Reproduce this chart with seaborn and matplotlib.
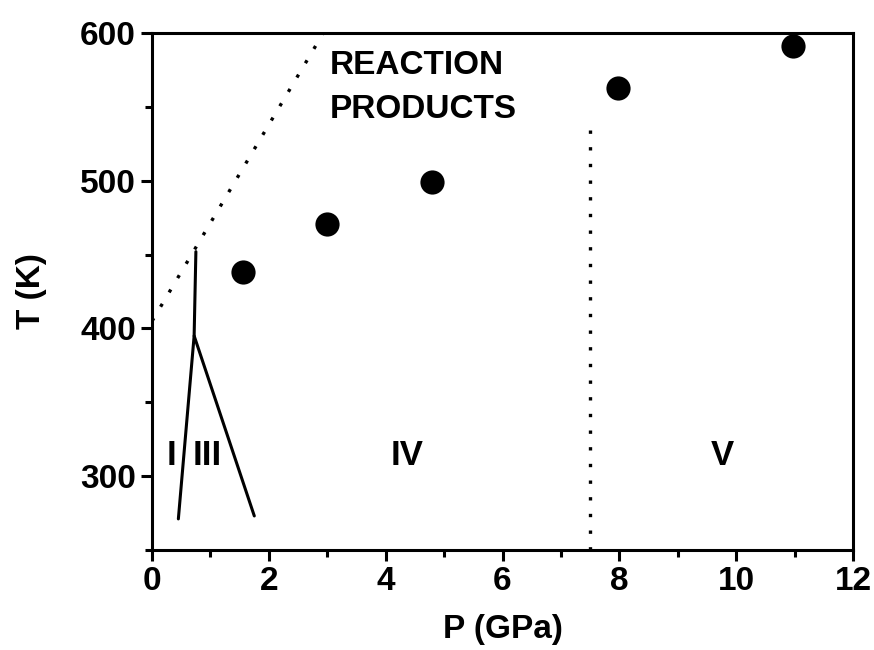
import numpy as np
import pandas as pd
import matplotlib
matplotlib.use('Agg')
import matplotlib.pyplot as plt
import seaborn as sns
from matplotlib.ticker import MultipleLocator

# measured points
pressure = [1.55, 3.0, 4.8, 7.97, 10.97]
temperature = [438, 471, 499, 563, 591]

# phase boundaries
i_iii_p = [0.45, 0.72, 0.75]
i_iii_t = [271, 395, 452]
iii_iv_p = [0.72, 1.75]
iii_iv_t = [395, 273]
react_p = [0.0, 2.93]
react_t = [405, 600]
iv_v_p = [7.5, 7.5]
iv_v_t = [250, 540]

sns.set_style('ticks')
plt.rcParams['font.family'] = ['Liberation Sans', 'DejaVu Sans']
plt.rcParams['font.weight'] = 'bold'
for k in ['text.color', 'axes.labelcolor', 'xtick.color', 'ytick.color', 'axes.edgecolor']:
    plt.rcParams[k] = 'black'

fig = plt.figure(figsize=(8.74, 6.5), dpi=100)
ax = fig.add_axes([0.174, 0.154, 0.802, 0.795])

df = pd.DataFrame({'P': pressure, 'T': temperature})
sns.scatterplot(data=df, x='P', y='T', s=260, color='black', edgecolor='black', ax=ax, zorder=3)

ax.plot(i_iii_p, i_iii_t, color='black', lw=2.2)
ax.plot(iii_iv_p, iii_iv_t, color='black', lw=2.2)
ax.plot(react_p, react_t, color='black', lw=2.4, linestyle=(0, (1, 4)))
ax.plot(iv_v_p, iv_v_t, color='black', lw=2.4, linestyle=(0, (1, 4)))

tk = dict(fontsize=25, fontweight='bold', ha='center', va='center')
ax.text(3.05, 578, 'REACTION', ha='left', va='center', fontsize=24, fontweight='bold')
ax.text(3.05, 548, 'PRODUCTS', ha='left', va='center', fontsize=24, fontweight='bold')
ax.text(0.34, 314, 'I', **tk)
ax.text(0.95, 314, 'III', **tk)
ax.text(4.37, 314, 'IV', **tk)
ax.text(9.77, 314, 'V', **tk)

ax.set_xlim(0, 12)
ax.set_ylim(250, 600)
ax.set_xticks([0, 2, 4, 6, 8, 10, 12])
ax.set_yticks([300, 400, 500, 600])
ax.xaxis.set_minor_locator(MultipleLocator(1))
ax.yaxis.set_minor_locator(MultipleLocator(50))
ax.tick_params(which='major', direction='out', length=8, width=2.2, labelsize=24)
ax.tick_params(which='minor', direction='out', length=5, width=2.2)
for lab in ax.get_xticklabels() + ax.get_yticklabels():
    lab.set_fontweight('bold')
for sp in ax.spines.values():
    sp.set_linewidth(2.2)
    sp.set_visible(True)

ax.set_xlabel('P (GPa)', fontsize=24, fontweight='bold', labelpad=12)
ax.set_ylabel('T (K)', fontsize=24, fontweight='bold', labelpad=24)

fig.savefig('out.png', dpi=100)
